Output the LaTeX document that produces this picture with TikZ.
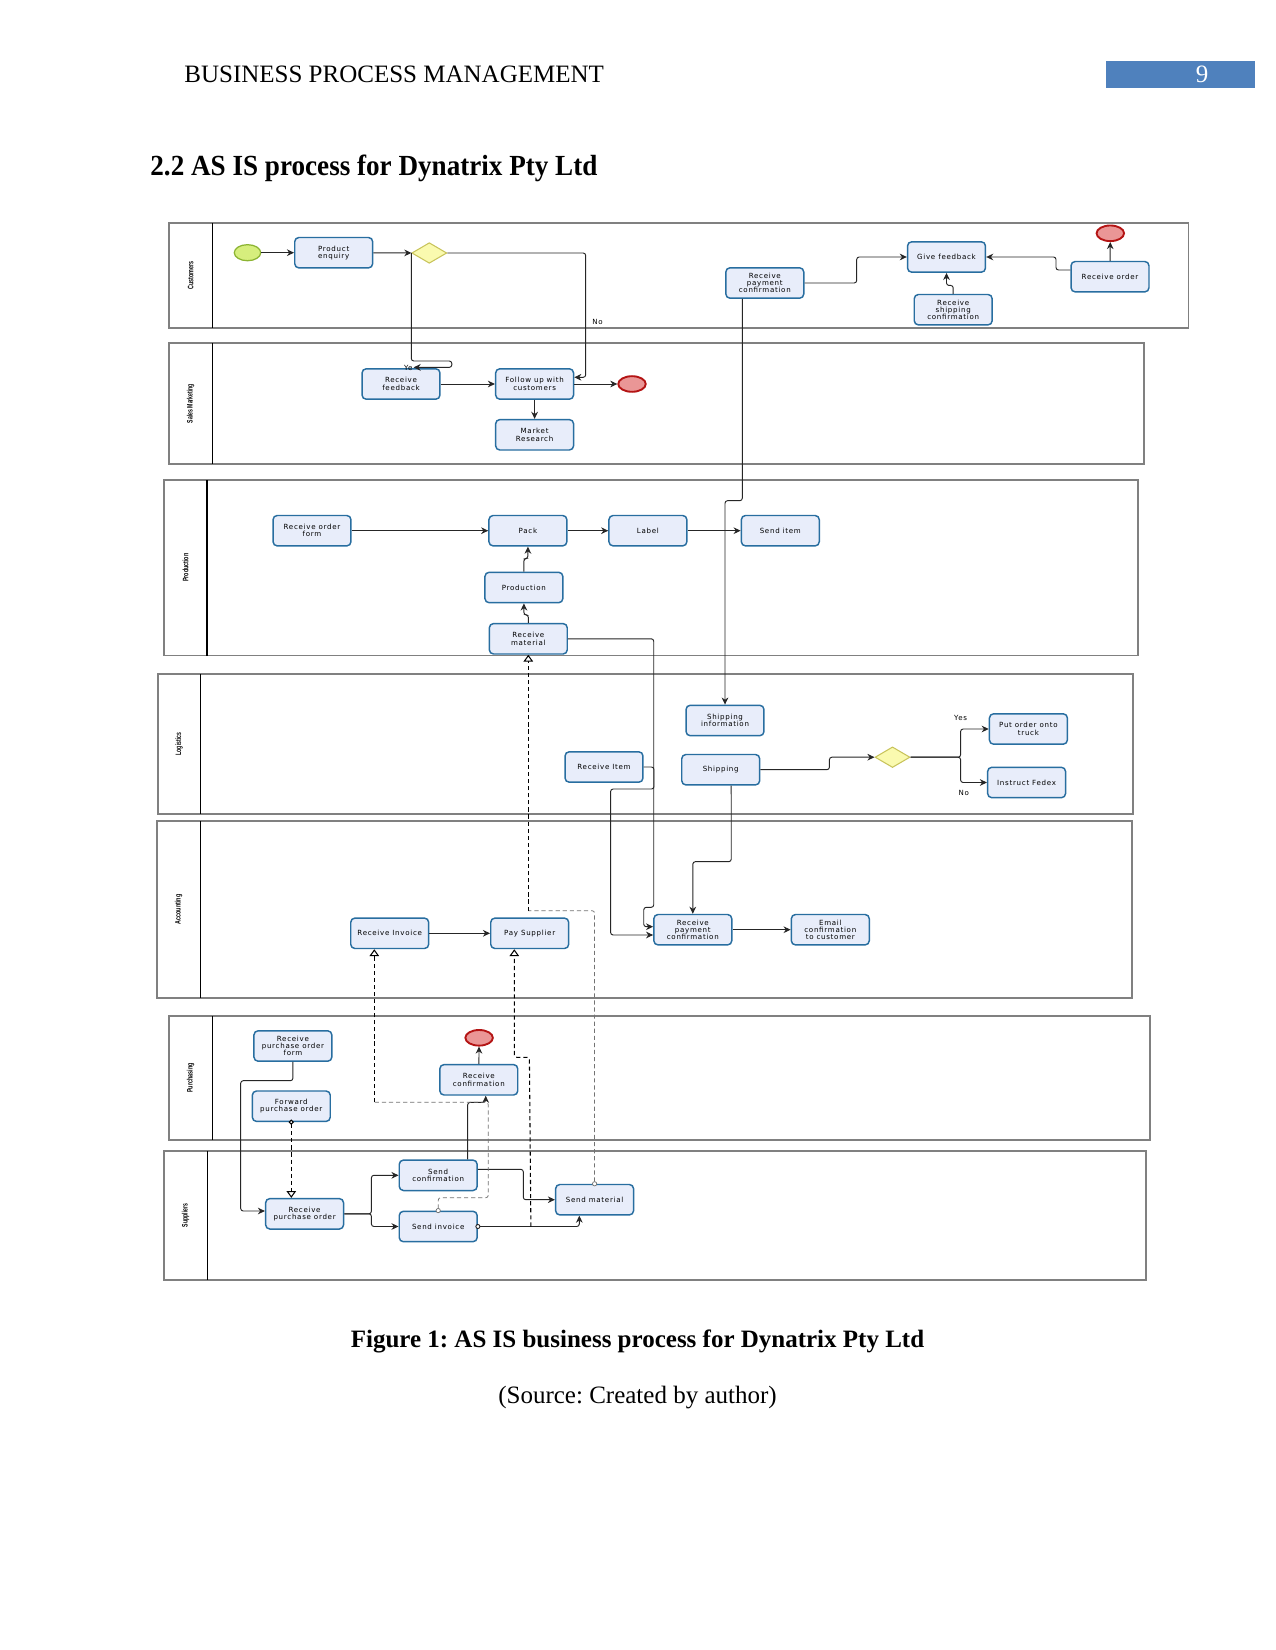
\documentclass[tikz,border=0pt]{standalone}
\usepackage{fontspec}
\setmainfont{Liberation Serif}
\newfontfamily\nodefont[LetterSpace=10]{DejaVu Sans}
\newfontfamily\lanefont{Liberation Sans}
\usetikzlibrary{shapes.geometric,arrows.meta,calc}
\definecolor{taskfill}{RGB}{232,237,250}
\definecolor{taskdraw}{RGB}{40,110,160}
\definecolor{startfill}{RGB}{214,238,125}
\definecolor{startdraw}{RGB}{140,180,50}
\definecolor{endfill}{RGB}{234,150,150}
\definecolor{enddraw}{RGB}{180,20,20}
\definecolor{gatefill}{RGB}{250,250,175}
\definecolor{gatedraw}{RGB}{200,195,90}
\definecolor{pagebox}{RGB}{79,129,189}
\frenchspacing
\begin{document}
\begin{tikzpicture}[x=0.48pt,y=-0.48pt,
  task/.style={draw=taskdraw, fill=taskfill, line width=0.7pt, rounded corners=2pt,
    minimum width=37.4pt, minimum height=14.6pt, inner sep=0.5pt, align=center,
    font=\nodefont\fontsize{3.4}{3.5}\selectfont},
  startev/.style={ellipse, draw=startdraw, fill=startfill, line width=0.6pt,
    minimum width=12.7pt, minimum height=7.7pt, inner sep=0},
  endev/.style={ellipse, draw=enddraw, fill=endfill, line width=0.9pt,
    minimum width=13.2pt, minimum height=7.5pt, inner sep=0},
  gate/.style={diamond, draw=gatedraw, fill=gatefill, line width=0.5pt,
    minimum width=16.8pt, minimum height=9.9pt, inner sep=0, aspect=1.7},
  flow/.style={draw=black!85, line width=0.45pt, rounded corners=1.2pt,
    -{Stealth[length=3.4pt,width=3.2pt]}},
  flowc/.style={draw=black!85, line width=0.45pt, rounded corners=1.2pt,
    {Circle[open,length=2.4pt,width=2.4pt,fill=white]}-{Stealth[length=3.4pt,width=3.2pt]},
    shorten <=-1.2pt},
  msgdark/.style={draw=black, line width=0.5pt, dash pattern=on 2pt off 1.4pt,
    rounded corners=1.2pt, -{Triangle[open,length=3.3pt,width=4.6pt,fill=white]}},
  msgdarkc/.style={draw=black, line width=0.5pt, dash pattern=on 2pt off 1.4pt,
    rounded corners=1.2pt,
    {Circle[open,length=2.4pt,width=2.4pt,fill=white]}-{Triangle[open,length=3.3pt,width=4.6pt,fill=white]},
    shorten <=-1.2pt},
  msglight/.style={draw=black!55, line width=0.35pt, dash pattern=on 2pt off 1.4pt,
    rounded corners=1.2pt},
  msglightc/.style={draw=black!55, line width=0.35pt, dash pattern=on 2pt off 1.4pt,
    rounded corners=1.2pt, {Circle[open,length=2.4pt,width=2.4pt,fill=white]}-,
    shorten <=-1.2pt},
  lane/.style={draw=black!50, line width=0.5pt},
  lanediv/.style={draw=black, line width=0.6pt},
  lanelbl/.style={rotate=90, inner sep=0, font=\lanefont\bfseries\fontsize{3.8}{4}\selectfont},
  lbl/.style={inner sep=0.5pt, font=\nodefont\fontsize{3.4}{3.5}\selectfont}
]
\fill[white] (0,0) rectangle (1275,1650);
\useasboundingbox (0,0) rectangle (1275,1650);

% ---------- page text ----------
\node[anchor=base west, inner sep=0, font=\fontsize{12}{14}\selectfont] (hdr) at (184,83) {BUSINESS PROCESS MANAGEMENT};
\fill[pagebox] (1106,61) rectangle (1255,88);
\node[anchor=base, inner sep=0, text=white, font=\fontsize{12}{14}\selectfont] (pnum) at (1202,83) {9};
\node[anchor=base west, inner sep=0, font=\bfseries\fontsize{14}{16}\selectfont] (ttl) at (150,176) {\scalebox{0.93}[1]{2.2 AS IS process for Dynatrix Pty Ltd}};
\node[anchor=base, inner sep=0, font=\bfseries\fontsize{12}{14}\selectfont] (cap) at (637.5,1347) {Figure 1: AS IS business process for Dynatrix Pty Ltd};
\node[anchor=base, inner sep=0, font=\fontsize{12}{14}\selectfont] (src) at (637.5,1403) {(Source: Created by author)};

% ---------- lanes ----------
\draw[lane] (169,223) rectangle (1188,328);   \draw[lanediv] (212.5,223) -- (212.5,328);
\draw[lane] (169,343) rectangle (1144,464);   \draw[lanediv] (212.5,343) -- (212.5,464);
\draw[lane] (164,480) rectangle (1138,655.5); \draw[lanediv] (207,480) -- (207,655.5);
\draw[lane] (158,674) rectangle (1133,814);   \draw[lanediv] (200.5,674) -- (200.5,814);
\draw[lane] (157,821) rectangle (1132,998);   \draw[lanediv] (200.5,821) -- (200.5,998);
\draw[lane] (169,1016) rectangle (1150,1140); \draw[lanediv] (212.5,1016) -- (212.5,1140);
\draw[lane] (164,1151) rectangle (1146,1280); \draw[lanediv] (207.5,1151) -- (207.5,1280);

\node[lanelbl] (l1) at (190.7,275.5) {\scalebox{0.68}[1]{Customers}};
\node[lanelbl] (l2) at (190.7,403.5) {\scalebox{0.65}[1]{Sales Marketing}};
\node[lanelbl] (l3) at (185.5,567.7) {\scalebox{0.68}[1]{Production}};
\node[lanelbl] (l4) at (179.2,744) {\scalebox{0.65}[1]{Logistics}};
\node[lanelbl] (l5) at (178.7,909.5) {\scalebox{0.68}[1]{Accounting}};
\node[lanelbl] (l6) at (190.7,1078) {\scalebox{0.68}[1]{Purchasing}};
\node[lanelbl] (l7) at (185.7,1215.5) {\scalebox{0.65}[1]{Suppliers}};

% ---------- Customers ----------
\node[startev] (cs) at (247.5,252.7) {};
\node[task] (pe) at (333.7,252.7) {Product\\enquiry};
\node[gate] (g1) at (429.3,253) {};
\node[task] (rpc) at (764.8,283) {Receive\\payment\\confirmation};
\node[task] (gf) at (946.5,257) {Give feedback};
\node[task] (rsc) at (953.2,309.7) {Receive\\shipping\\confirmation};
\node[task] (ro) at (1110,276.7) {Receive order};
\node[endev] (ce) at (1110.3,233.3) {};

% ---------- Sales Marketing ----------
\node[task] (rf) at (401,384) {Receive\\feedback};
\node[task] (fu) at (534.6,384) {Follow up with\\customers};
\node[endev] (se) at (632,384) {};
\node[task] (mr) at (534.6,434.8) {Market\\Research};

% ---------- Production ----------
\node[task] (rof) at (312,530.7) {Receive order\\form};
\node[task] (pack) at (527.9,530.7) {Pack};
\node[task] (label) at (647.9,530.7) {Label};
\node[task] (si) at (780.3,530.7) {Send item};
\node[task] (prod) at (523.9,587.5) {Production};
\node[task] (rm) at (528.3,638.8) {Receive\\material};

% ---------- Logistics ----------
\node[task] (shi) at (725,720.5) {Shipping\\information};
\node[task] (ri) at (604,767) {Receive Item};
\node[task] (ship) at (720.7,769.7) {Shipping};
\node[gate] (g2) at (892.5,757.2) {};
\node[task] (pot) at (1028.4,729) {Put order onto\\truck};
\node[task] (fed) at (1026.6,782.5) {Instruct Fedex};

% ---------- Accounting ----------
\node[task] (apc) at (692.8,929.7) {Receive\\payment\\confirmation};
\node[task] (ec) at (830.3,929.7) {Email\\confirmation\\to customer};
\node[task] (rinv) at (389.7,933.3) {Receive Invoice};
\node[task] (ps) at (529.7,933.3) {Pay Supplier};

% ---------- Purchasing ----------
\node[task] (rpof) at (292.9,1046) {Receive\\purchase order\\form};
\node[task] (fpo) at (291.3,1106.2) {Forward\\purchase order};
\node[endev] (pe2) at (479.1,1037.8) {};
\node[task] (rc) at (478.8,1079.8) {Receive\\confirmation};

% ---------- Suppliers ----------
\node[task] (rpo) at (304.6,1213.8) {Receive\\purchase order};
\node[task] (sc) at (438.2,1175.3) {Send\\confirmation};
\node[task] (sinv) at (438.2,1226.5) {Send invoice};
\node[task] (sm) at (594.6,1199.7) {Send material};

% ---------- connectors: Customers / Sales ----------
\draw[flow] (cs) -- (pe);
\draw[flow] (pe) -- (g1);
\draw[flow] (g1.east) -| ($(fu.east)+(11.4,-6.7)$) -- ($(fu.east)+(0,-6.7)$);
\node[lbl] (lno1) at (597.5,321.7) {No};
\draw[flow] (g1.west) |- (451.8,361) |- ($(rf.north)+(12.6,-0.7)$);
\node[lbl, anchor=east] (lye) at (414,368) {Ye};
\draw[flow] (rf) -- (fu);
\draw[flow] (fu) -- (se);
\draw[flow] (fu) -- (mr);
\draw[flow] (rpc.east) -| (856.7,270) |- (gf.west);
\draw[flow] ($(ro.west)+(0,-6.7)$) -| (1056,265) |- (gf.east);
\draw[flow] (rsc.north) -- ++(0,-8.3) -| (gf.south);
\draw[flow] (ro) -- (ce);
\draw[flow] ($(rpc.south)+(-22.5,0)$) -- (742.3,500.7) -| (shi.north);

% ---------- Production ----------
\draw[flow] (rof) -- (pack);
\draw[flow] (pack) -- (label);
\draw[flow] (label) -- (si);
\draw[flow] (prod.north) -- ++(0,-13) -| (pack.south);
\draw[flow] (rm.north) -- ++(0,-8) -| (prod.south);
\draw[flow] (rm.east) -| (653.75,907.3) -| (643.75,926.7) -- ($(apc.west)+(0,-3)$);

% ---------- Logistics / Accounting ----------
\draw[flow] (ri.east) -| (654,789) -| (610.6,935) -- ($(apc.west)+(0,5.3)$);
\draw[flow] ($(ship.south)+(10.5,0)$) -- (731.25,861.7) -| (apc.north);
\draw[flow] (ship.east) -| (829.4,763) |- (g2.west);
\draw[flow] (g2.east) -| (960.6,740) |- (pot.west);
\draw[flow] (g2.east) -| (960.6,770) |- (fed.west);
\node[lbl] (lyes) at (960.6,718.3) {Yes};
\node[lbl] (lno2) at (963.75,793.3) {No};
\draw[flow] (apc) -- (ec);
\draw[flow] (rinv) -- (ps);

% ---------- Purchasing / Suppliers ----------
\draw[flow] (rpof.south) -- (292.9,1080.7) -| (240.7,1150) |- ($(rpo.west)+(0,-2.8)$);
\draw[msgdarkc] (fpo.south) -- (fpo.south |- rpo.north);
\draw[flow] (rc) -- (pe2);
\draw[flow] (rpo.east) -| (371.4,1190) |- (sc.west);
\draw[flow] (rpo.east) -| (371.4,1220) |- (sinv.west);
\draw[flow] ($(sc.north)+(29.5,0)$) -- (467.7,1102.3) -| ($(rc.south)+(6.9,0)$);
\draw[flow] ($(sc.east)+(0,-6)$) -| (523.3,1185) |- (sm.west);
\draw[flowc] (sinv.east) -| ($(sm.south)+(-15.3,0)$);

% ---------- message flows ----------
\draw[msglightc] (sinv.north) |- (488.3,1197.7) -- (488.3,1102.3) -- (374.3,1102.3);
\draw[msgdark] (374.3,1102.3) -- ($(rinv.south)+(-15.4,0)$);
\draw[msgdark] ($(sinv.east)+(53,0)$) -- (529.4,1057.3) -| ($(ps.south)+(-15.4,0)$);
\draw[msglightc] (sm.north) |- (528.3,910.7);
\draw[msgdark] (528.3,910.7) -- (rm.south);
\end{tikzpicture}
\end{document}
